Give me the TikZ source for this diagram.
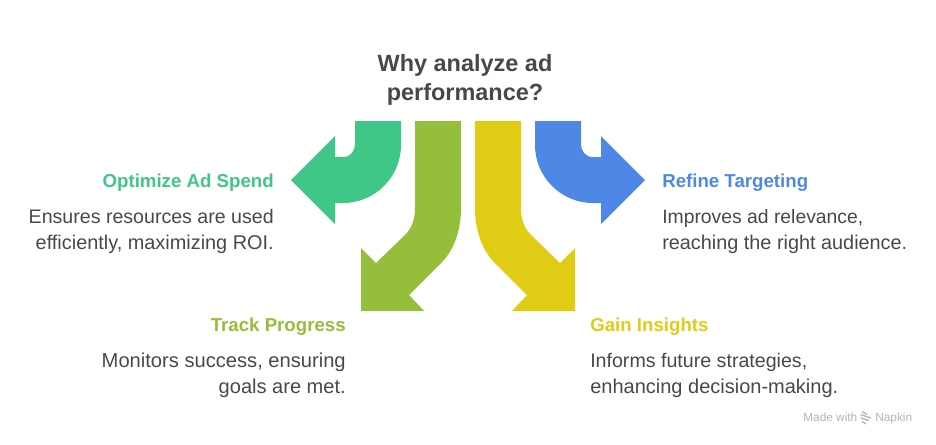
\documentclass[tikz,border=0pt]{standalone}
\usepackage{fontspec}
\usepackage{graphicx}
\setmainfont{Liberation Sans}
\definecolor{cgreen}{HTML}{3EC786}
\definecolor{colive}{HTML}{95BE3A}
\definecolor{cyellow}{HTML}{E0CC14}
\definecolor{cblue}{HTML}{4E88E7}
\definecolor{ctext}{HTML}{484848}
\definecolor{cmark}{HTML}{B4B4B4}
\newcommand{\fitline}[2]{\resizebox{#1\dimexpr0.75pt\relax}{!}{#2}}
\tikzset{
  x=0.75pt,y=-0.75pt,
  arrowshape/.style={fill=#1,draw=none},
  titletext/.style={font=\fontsize{17.6pt}{22pt}\selectfont\bfseries,text=ctext,anchor=base,inner sep=0},
  headtext/.style={font=\fontsize{14.0pt}{18pt}\selectfont\bfseries,text=#1,inner sep=0},
  bodytext/.style={font=\fontsize{14.8pt}{18pt}\selectfont,text=ctext,inner sep=0},
  marktext/.style={font=\fontsize{8.9pt}{10pt}\selectfont,text=cmark,inner sep=0,anchor=base west},
}
\begin{document}
\begin{tikzpicture}
\useasboundingbox (0,0) rectangle (936,444);
% arrows
\fill[arrowshape=cgreen] (355,121) -- (355,143) .. controls (355,151) and (351,157) .. (343,157) -- (335,157) -- (335,136) -- (291,180) -- (335,224) -- (335,203) -- (343,203) .. controls (375,203) and (401,177) .. (401,145) -- (401,121) -- cycle;
\fill[arrowshape=colive] (415,121) -- (415,208) .. controls (415,219) and (412,228) .. (405,235) -- (376,263) -- (361,248) -- (361,311) -- (424,311) -- (409,295) -- (442,262) .. controls (454,250) and (461,230) .. (461,208) -- (461,121) -- cycle;
\fill[arrowshape=cyellow] (521,121) -- (521,208) .. controls (521,219) and (524,228) .. (531,235) -- (560,263) -- (575,248) -- (575,311) -- (512,311) -- (527,295) -- (494,262) .. controls (482,250) and (475,230) .. (475,208) -- (475,121) -- cycle;
\fill[arrowshape=cblue] (581,121) -- (581,143) .. controls (581,151) and (585,157) .. (593,157) -- (601,157) -- (601,136) -- (645,180) -- (601,224) -- (601,203) -- (593,203) .. controls (561,203) and (535,177) .. (535,145) -- (535,121) -- cycle;
% title
\node[titletext] (t1) at (465,71) {Why analyze ad};
\node[titletext] (t2) at (465,100) {performance?};
% left
\node[headtext=cgreen,anchor=base east] (h1) at (274,187) {Optimize Ad Spend};
\node[bodytext,anchor=base east] (b1a) at (274,223) {\fitline{245}{Ensures resources are used}};
\node[bodytext,anchor=base east] (b1b) at (274,249) {\fitline{238}{efficiently, maximizing ROI.}};
\node[headtext=colive,anchor=base east] (h2) at (346,331) {Track Progress};
\node[bodytext,anchor=base east] (b2a) at (346,367) {\fitline{244}{Monitors success, ensuring}};
\node[bodytext,anchor=base east] (b2b) at (346,393) {\fitline{127}{goals are met.}};
% right
\node[headtext=cblue,anchor=base west] (h3) at (662,187) {Refine Targeting};
\node[bodytext,anchor=base west] (b3a) at (662,223) {\fitline{201}{Improves ad relevance,}};
\node[bodytext,anchor=base west] (b3b) at (662,249) {\fitline{245}{reaching the right audience.}};
\node[headtext=cyellow,anchor=base west] (h4) at (590,331) {Gain Insights};
\node[bodytext,anchor=base west] (b4a) at (590,367) {\fitline{217}{Informs future strategies,}};
\node[bodytext,anchor=base west] (b4b) at (590,393) {\fitline{248}{enhancing decision-making.}};
% watermark
\node[marktext] (m1) at (803,421) {Made with};
\node[marktext] (m2) at (875,421) {Napkin};
\draw[cmark,line width=1pt] (862,411.5) -- (867,414.5) (860.5,414.5) -- (871,418) (861,418) -- (869,420.5) (862,421.5) -- (866,424);
\end{tikzpicture}
\end{document}
